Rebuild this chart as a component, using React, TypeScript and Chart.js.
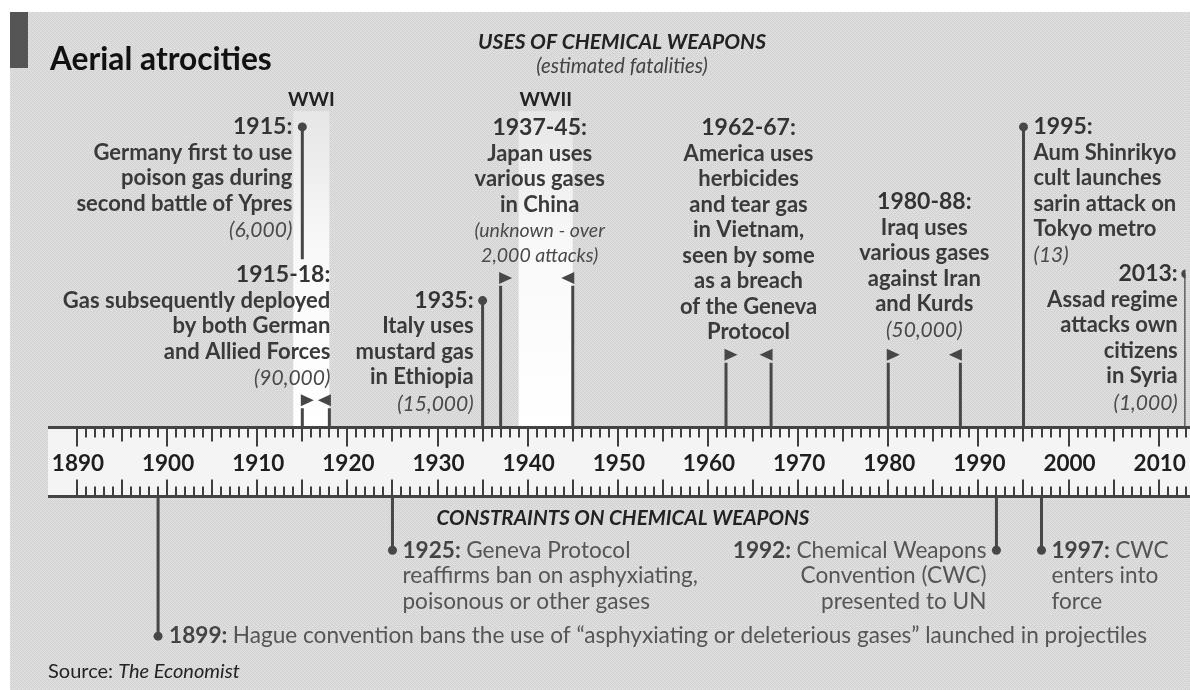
import React, { useEffect, useRef } from 'react';
import { Chart, registerables } from 'chart.js';

Chart.register(...registerables);

// ---------------- DATA ----------------
const TITLE = 'Aerial atrocities';
const USES_TITLE = 'USES OF CHEMICAL WEAPONS';
const USES_SUBTITLE = '(estimated fatalities)';
const CONSTRAINTS_TITLE = 'CONSTRAINTS ON CHEMICAL WEAPONS';
const SOURCE_LABEL = 'Source: ';
const SOURCE_NAME = 'The Economist';

const YEAR_TICKS = [1890, 1900, 1910, 1920, 1930, 1940, 1950, 1960, 1970, 1980, 1990, 2000, 2010];
const RULER_FIRST_YEAR = 1890;
const RULER_LAST_YEAR = 2013;

const WARS = [
  { name: 'WWI', start: 1914, end: 1918 },
  { name: 'WWII', start: 1939, end: 1945 },
];

const USES = [
  { id: 'ypres', year: 1915, endYear: null, heading: '1915:', text: ['Germany first to use', 'poison gas during', 'second battle of Ypres'], note: ['(6,000)'] },
  { id: 'ww1', year: 1915, endYear: 1918, heading: '1915-18:', text: ['Gas subsequently deployed', 'by both German', 'and Allied Forces'], note: ['(90,000)'] },
  { id: 'ethiopia', year: 1935, endYear: null, heading: '1935:', text: ['Italy uses', 'mustard gas', 'in Ethiopia'], note: ['(15,000)'] },
  { id: 'china', year: 1937, endYear: 1945, heading: '1937-45:', text: ['Japan uses', 'various gases', 'in China'], note: ['(unknown - over', '2,000 attacks)'] },
  { id: 'vietnam', year: 1962, endYear: 1967, heading: '1962-67:', text: ['America uses', 'herbicides', 'and tear gas', 'in Vietnam,', 'seen by some', 'as a breach', 'of the Geneva', 'Protocol'], note: [] as string[] },
  { id: 'iraq', year: 1980, endYear: 1988, heading: '1980-88:', text: ['Iraq uses', 'various gases', 'against Iran', 'and Kurds'], note: ['(50,000)'] },
  { id: 'tokyo', year: 1995, endYear: null, heading: '1995:', text: ['Aum Shinrikyo', 'cult launches', 'sarin attack on', 'Tokyo metro'], note: ['(13)'] },
  { id: 'syria', year: 2013, endYear: null, heading: '2013:', text: ['Assad regime', 'attacks own', 'citizens', 'in Syria'], note: ['(1,000)'] },
];

const CONSTRAINTS = [
  { id: 'hague', year: 1899, heading: '1899:', text: ['Hague convention bans the use of \u201casphyxiating or deleterious gases\u201d launched in projectiles'] },
  { id: 'geneva', year: 1925, heading: '1925:', text: ['Geneva Protocol', 'reaffirms ban on asphyxiating,', 'poisonous or other gases'] },
  { id: 'cwc', year: 1992, heading: '1992:', text: ['Chemical Weapons', 'Convention (CWC)', 'presented to UN'] },
  { id: 'cwcForce', year: 1997, heading: '1997:', text: ['CWC', 'enters into', 'force'] },
];

// ---------------- LAYOUT (pixels) ----------------
const W = 1190;
const H = 690;
const X_MIN = 1890 - 73 / (1090 / 120);
const X_MAX = X_MIN + W / (1090 / 120);
const RULER_TOP = 428.5;
const RULER_BOTTOM = 498.5;
const RULER_LEFT = 48;
const BAND_TOP = 108;
const LINE_H = 25.9;

type Align = 'left' | 'right' | 'center';
const USE_LAYOUT: Record<string, { row: number; anchor: 'start' | 'end' | 'mid'; dx: number; align: Align; stemTo?: number; arrowRow?: number; noteSize?: number; noteGap?: number }> = {
  ypres: { row: 124, anchor: 'start', dx: -10, align: 'right', stemTo: 258 },
  ww1: { row: 274, anchor: 'end', dx: 1, align: 'right', arrowRow: 401 },
  ethiopia: { row: 300, anchor: 'start', dx: -9, align: 'right' },
  china: { row: 125, anchor: 'mid', dx: 3, align: 'center', arrowRow: 277, noteSize: 19.5, noteGap: 25 },
  vietnam: { row: 125, anchor: 'mid', dx: 0, align: 'center', arrowRow: 355 },
  iraq: { row: 200, anchor: 'mid', dx: 0, align: 'center', arrowRow: 355 },
  tokyo: { row: 124, anchor: 'start', dx: 10, align: 'left' },
  syria: { row: 273, anchor: 'start', dx: -8, align: 'right' },
};

const CON_LAYOUT: Record<string, { row: number; dx: number; align: Align }> = {
  hague: { row: 640, dx: 11, align: 'left' },
  geneva: { row: 553, dx: 10, align: 'left' },
  cwc: { row: 553, dx: -10, align: 'right' },
  cwcForce: { row: 553, dx: 10, align: 'left' },
};

const FAMILY = 'Lato, "Noto Sans", "DejaVu Sans", sans-serif';
const f = (style: string, weight: number, size: number) => `${style} ${weight} ${size}px ${FAMILY}`;
const INK = '#474747';
const HEAD_SIZE = 23;
const BODY_SIZE = 22;
const NOTE_SIZE = 21;
const CON_SIZE = 22.6;

// ---------------- helpers ----------------
type Seg = { t: string; font: string; color: string };
function drawSegs(ctx: CanvasRenderingContext2D, segs: Seg[], x: number, y: number, align: Align) {
  let w = 0;
  segs.forEach((s) => { ctx.font = s.font; w += ctx.measureText(s.t).width; });
  let sx = align === 'left' ? x : align === 'right' ? x - w : x - w / 2;
  ctx.textAlign = 'left';
  ctx.textBaseline = 'middle';
  segs.forEach((s) => {
    ctx.font = s.font;
    ctx.fillStyle = s.color;
    ctx.fillText(s.t, sx, y);
    sx += ctx.measureText(s.t).width;
  });
}

function makePattern(ctx: CanvasRenderingContext2D) {
  const c = document.createElement('canvas');
  c.width = 4; c.height = 4;
  const p = c.getContext('2d')!;
  p.fillStyle = '#dedede';
  p.fillRect(0, 0, 4, 4);
  p.fillStyle = '#d1d1d1';
  [[0, 0], [1, 1], [2, 2], [3, 3], [3, 1], [1, 3]].forEach(([a, b]) => p.fillRect(a, b, 1, 1));
  return ctx.createPattern(c, 'repeat')!;
}

function anchorYear(u: typeof USES[number], a: 'start' | 'end' | 'mid') {
  if (a === 'start' || u.endYear == null) return u.year;
  if (a === 'end') return u.endYear;
  return (u.year + u.endYear) / 2;
}

const timelinePlugin = {
  id: 'timeline',
  beforeDatasetsDraw(chart: any) {
    const ctx: CanvasRenderingContext2D = chart.ctx;
    const xs = chart.scales.x;
    const ys = chart.scales.y;
    const px = (v: number) => xs.getPixelForValue(v);
    const py = (v: number) => ys.getPixelForValue(v);
    ctx.save();
    // page & panel
    ctx.fillStyle = '#ffffff';
    ctx.fillRect(0, 0, W, H);
    ctx.fillStyle = makePattern(ctx);
    ctx.fillRect(10, 12, W - 10, H - 12);
    ctx.fillStyle = '#555555';
    ctx.fillRect(10, 12, 18, 56);

    // war bands
    WARS.forEach((w) => {
      const x0 = px(w.start);
      const x1 = px(w.end);
      const g = ctx.createLinearGradient(0, py(BAND_TOP), 0, py(RULER_TOP));
      g.addColorStop(0, 'rgba(255,255,255,0.35)');
      g.addColorStop(0.45, 'rgba(255,255,255,0.85)');
      g.addColorStop(1, 'rgba(255,255,255,1)');
      ctx.fillStyle = g;
      ctx.fillRect(x0, py(BAND_TOP), x1 - x0, py(RULER_TOP) - py(BAND_TOP));
      drawSegs(ctx, [{ t: w.name, font: f('normal', 700, 19.5), color: '#222' }], (x0 + x1) / 2, py(96), 'center');
    });

    // titles
    drawSegs(ctx, [{ t: TITLE, font: f('normal', 700, 31.7), color: '#111' }], 50, py(56), 'left');
    drawSegs(ctx, [{ t: USES_TITLE, font: f('italic', 700, 21), color: '#222' }], 622, py(38), 'center');
    drawSegs(ctx, [{ t: USES_SUBTITLE, font: f('italic', 400, 20.5), color: '#444' }], 622, py(63), 'center');
    drawSegs(ctx, [{ t: CONSTRAINTS_TITLE, font: f('italic', 700, 20.6), color: '#222' }], 623, py(521), 'center');
    drawSegs(ctx, [
      { t: SOURCE_LABEL, font: f('normal', 400, 20), color: '#222' },
      { t: SOURCE_NAME, font: f('italic', 400, 20), color: '#222' },
    ], 48, py(676), 'left');

    // ruler
    ctx.fillStyle = '#f4f4f4';
    ctx.fillRect(RULER_LEFT, py(RULER_TOP), W - RULER_LEFT, py(RULER_BOTTOM) - py(RULER_TOP));
    ctx.strokeStyle = '#444';
    ctx.lineWidth = 3;
    ctx.beginPath();
    ctx.moveTo(RULER_LEFT, py(RULER_TOP)); ctx.lineTo(W, py(RULER_TOP));
    ctx.moveTo(RULER_LEFT, py(RULER_BOTTOM)); ctx.lineTo(W, py(RULER_BOTTOM));
    ctx.stroke();
    ctx.lineWidth = 2;
    ctx.strokeStyle = '#3e3e3e';
    ctx.beginPath();
    for (let yr = RULER_FIRST_YEAR; yr <= RULER_LAST_YEAR; yr++) {
      const x = Math.round(px(yr));
      const topLen = yr % 10 === 0 ? 19 : yr % 5 === 0 ? 14 : 10;
      const botLen = yr % 5 === 0 ? 17 : 10;
      ctx.moveTo(x, py(RULER_TOP) + 1); ctx.lineTo(x, py(RULER_TOP) + topLen);
      ctx.moveTo(x, py(RULER_BOTTOM) - 1); ctx.lineTo(x, py(RULER_BOTTOM) - botLen);
    }
    ctx.stroke();
    YEAR_TICKS.forEach((yr) => {
      drawSegs(ctx, [{ t: String(yr), font: f('normal', 700, 22.5), color: '#1e1e1e' }], px(yr) + 1, py(465), 'center');
    });
    ctx.restore();
  },
  afterDatasetsDraw(chart: any) {
    const ctx: CanvasRenderingContext2D = chart.ctx;
    const xs = chart.scales.x;
    const ys = chart.scales.y;
    const px = (v: number) => xs.getPixelForValue(v);
    const py = (v: number) => ys.getPixelForValue(v);
    ctx.save();
    // arrows for ranged events
    USES.forEach((u) => {
      const L = USE_LAYOUT[u.id];
      if (u.endYear == null || L.arrowRow == null) return;
      const yA = py(L.arrowRow);
      ctx.fillStyle = INK;
      const xs0 = px(u.year) - 1.5;
      ctx.beginPath(); ctx.moveTo(xs0, yA - 6); ctx.lineTo(xs0 + 13, yA); ctx.lineTo(xs0, yA + 6); ctx.closePath(); ctx.fill();
      const xe0 = px(u.endYear) + 1.5;
      ctx.beginPath(); ctx.moveTo(xe0, yA - 6); ctx.lineTo(xe0 - 13, yA); ctx.lineTo(xe0, yA + 6); ctx.closePath(); ctx.fill();
    });
    // uses text
    USES.forEach((u) => {
      const L = USE_LAYOUT[u.id];
      const x = px(anchorYear(u, L.anchor)) + L.dx;
      let y = L.row;
      drawSegs(ctx, [{ t: u.heading, font: f('normal', 700, HEAD_SIZE), color: '#333' }], x, py(y), L.align);
      u.text.forEach((t) => { y += LINE_H; drawSegs(ctx, [{ t, font: f('normal', 700, BODY_SIZE), color: '#3a3a3a' }], x, py(y), L.align); });
      u.note.forEach((t, i) => {
        y += i === 0 ? LINE_H + 1 : (L.noteGap ?? LINE_H);
        drawSegs(ctx, [{ t, font: f('italic', 400, L.noteSize ?? NOTE_SIZE), color: '#4a4a4a' }], x, py(y), L.align);
      });
    });
    // constraints text
    CONSTRAINTS.forEach((c) => {
      const L = CON_LAYOUT[c.id];
      const x = px(c.year) + L.dx;
      c.text.forEach((t, i) => {
        const segs: Seg[] = [];
        if (i === 0) segs.push({ t: c.heading + ' ', font: f('normal', 700, CON_SIZE), color: '#444' });
        segs.push({ t, font: f('normal', 400, CON_SIZE), color: '#555' });
        drawSegs(ctx, segs, x, py(L.row + i * LINE_H), L.align);
      });
    });
    ctx.restore();
  },
};

export default function App() {
  const ref = useRef<HTMLCanvasElement | null>(null);
  useEffect(() => {
    if (!ref.current) return;
    const stems: any[] = [];
    const dots: { x: number; y: number }[] = [];
    USES.forEach((u) => {
      const L = USE_LAYOUT[u.id];
      if (u.endYear == null) {
        dots.push({ x: u.year, y: L.row });
        stems.push([{ x: u.year, y: L.row }, { x: u.year, y: L.stemTo ?? RULER_TOP }]);
      } else {
        const a = (L.arrowRow ?? 0) + 8;
        stems.push([{ x: u.year, y: a }, { x: u.year, y: RULER_TOP }]);
        stems.push([{ x: u.endYear, y: a }, { x: u.endYear, y: RULER_TOP }]);
      }
    });
    CONSTRAINTS.forEach((c) => {
      const L = CON_LAYOUT[c.id];
      dots.push({ x: c.year, y: L.row });
      stems.push([{ x: c.year, y: RULER_BOTTOM }, { x: c.year, y: L.row }]);
    });
    const datasets: any[] = stems.map((d, i) => ({
      type: 'line',
      label: 'stem' + i,
      data: d,
      borderColor: INK,
      borderWidth: 3,
      pointRadius: 0,
      borderCapStyle: 'butt',
    }));
    datasets.push({
      type: 'scatter',
      label: 'events',
      data: dots,
      pointRadius: 4.5,
      pointBackgroundColor: INK,
      pointBorderWidth: 0,
    });
    const chart = new Chart(ref.current, {
      type: 'scatter',
      data: { datasets },
      options: {
        animation: false,
        responsive: false,
        devicePixelRatio: 1,
        events: [],
        layout: { padding: 0 },
        plugins: { legend: { display: false }, tooltip: { enabled: false } },
        scales: {
          x: { type: 'linear', min: X_MIN, max: X_MAX, display: false },
          y: { type: 'linear', min: 0, max: H, reverse: true, display: false },
        },
      },
      plugins: [timelinePlugin],
    });
    return () => chart.destroy();
  }, []);
  return (
    <div style={{ position: 'fixed', left: 0, top: 0, width: W, height: H, background: '#fff' }}>
      <canvas ref={ref} width={W} height={H} style={{ display: 'block', width: W, height: H }} />
    </div>
  );
}
